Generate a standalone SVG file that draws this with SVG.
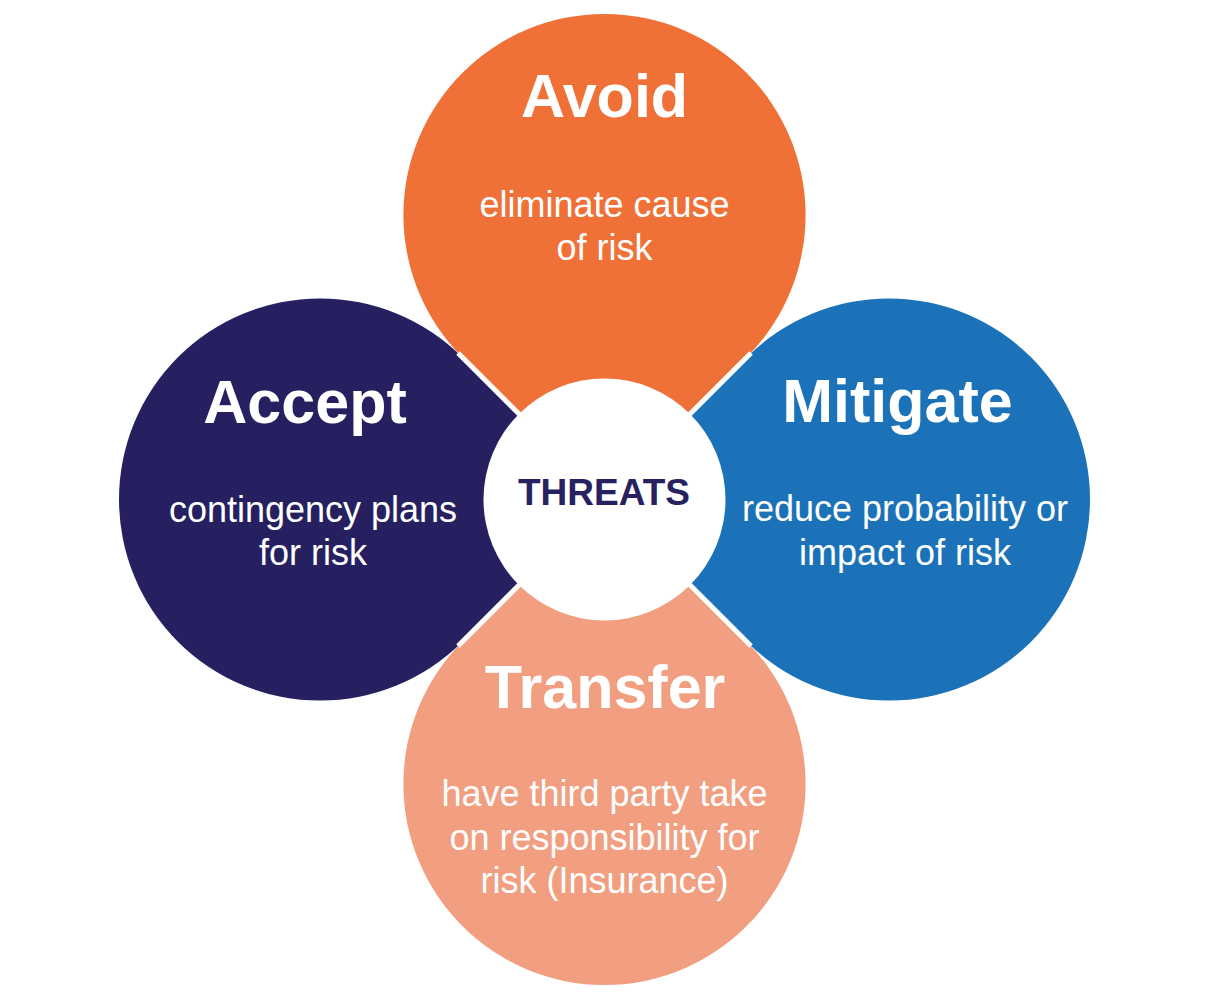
<svg xmlns="http://www.w3.org/2000/svg" width="1208" height="1000" viewBox="0 0 1208 1000">
  <style>
    .gap { stroke: #ffffff; stroke-width: 5; fill: none; stroke-linecap: butt; }
    .title { font-family: "Liberation Sans", Arial, sans-serif; font-weight: bold; font-size: 61px; fill: #ffffff; text-anchor: middle; }
    .desc { font-family: "Liberation Sans", Arial, sans-serif; font-size: 36px; fill: #ffffff; text-anchor: middle; }
    .center { font-family: "Liberation Sans", Arial, sans-serif; font-weight: bold; font-size: 37px; fill: #27215f; text-anchor: middle; }
  </style>
  <rect width="1208" height="1000" fill="#ffffff"/>
  <g id="avoid">
    <path fill="#f07138" d="M604.5 499.5 L462.3 357.3 A201.1 201.1 0 1 1 746.7 357.3 Z"/>
    <text class="title" x="604.5" y="117">Avoid</text>
    <text class="desc" x="604.5" y="217">eliminate cause</text>
    <text class="desc" x="604.5" y="260">of risk</text>
  </g>
  <g id="mitigate">
    <path fill="#1b72b8" d="M604.5 499.5 L746.7 357.3 A201.1 201.1 0 1 1 746.7 641.7 Z"/>
    <text class="title" x="897.5" y="422">Mitigate</text>
    <text class="desc" x="905" y="521">reduce probability or</text>
    <text class="desc" x="905" y="565">impact of risk</text>
  </g>
  <g id="transfer">
    <path fill="#f29e80" d="M604.5 499.5 L746.7 641.7 A201.1 201.1 0 1 1 462.3 641.7 Z"/>
    <text class="title" x="605" y="708">Transfer</text>
    <text class="desc" x="604.5" y="806">have third party take</text>
    <text class="desc" x="604.5" y="850">on responsibility for</text>
    <text class="desc" x="604.5" y="893">risk (Insurance)</text>
  </g>
  <g id="accept">
    <path fill="#262060" d="M604.5 499.5 L462.3 641.7 A201.1 201.1 0 1 1 462.3 357.3 Z"/>
    <text class="title" x="305" y="423">Accept</text>
    <text class="desc" x="313" y="522">contingency plans</text>
    <text class="desc" x="313" y="565">for risk</text>
  </g>
  <g id="separators">
    <path class="gap" d="M604.5 499.5 L458 353 M604.5 499.5 L751 353 M604.5 499.5 L751 646 M604.5 499.5 L458 646"/>
  </g>
  <g id="threats">
    <circle cx="604.5" cy="499.5" r="121" fill="#ffffff"/>
    <text class="center" x="604" y="505">THREATS</text>
  </g>
  <g id="connectors"/>
</svg>
